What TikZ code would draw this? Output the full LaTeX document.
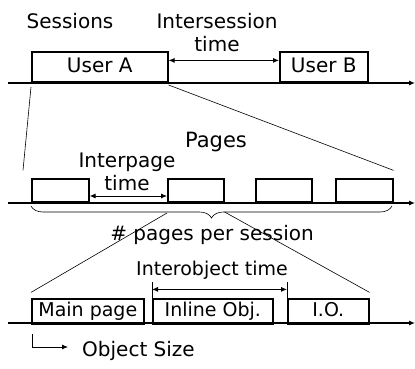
\documentclass[tikz,border=0pt]{standalone}
\usepackage{fontspec}
\setmainfont{DejaVu Sans}
\usetikzlibrary{arrows.meta,calc,decorations.pathreplacing}
\begin{document}
\begin{tikzpicture}[x=1pt,y=-1pt,
  every node/.style={font=\fontsize{20}{22}\selectfont},
  small/.style={font=\fontsize{19}{21}\selectfont},
  box/.style={draw,line width=1.6pt,inner sep=0pt,anchor=south west,minimum height=#1,text height=14pt,text depth=4pt},
  box/.default=30pt,
  lbl/.style={inner sep=0pt,anchor=base},
  axis/.style={line width=1.1pt,-{Latex[length=6pt,width=5pt]}},
  dim/.style={line width=0.8pt,{Latex[length=6pt,width=5pt]}-{Latex[length=6pt,width=5pt]}},
  zoomline/.style={line width=0.6pt}]
\useasboundingbox (0,0) rectangle (415,369);
% axes
\coordinate (a1s) at (8,83);  \coordinate (a1e) at (415,83);
\coordinate (a2s) at (8,203); \coordinate (a2e) at (415,203);
\coordinate (a3s) at (8,323); \coordinate (a3e) at (415,323);
\draw[axis] (a1s) -- (a1e);
\draw[axis] (a2s) -- (a2e);
\draw[axis] (a3s) -- (a3e);
% row 1
\node[lbl] (sess) at (70,29) {Sessions};
\node[lbl] (ist1) at (217,29) {Intersession};
\node[lbl] (ist2) at (217,52) {time};
\node[box,minimum width=136pt] (ua) at (31,83) {User A};
\node[box,minimum width=88pt] (ub) at (279,83) {User B};
\draw[dim] ($(ua.north east)+(0,9)$) -- ($(ub.north west)+(0,9)$);
% row 2
\node[lbl,font=\fontsize{21}{23}\selectfont] (pages) at (216,147) {Pages};
\node[lbl] (ipt1) at (127,167) {Interpage};
\node[lbl] (ipt2) at (127,190) {time};
\node[box=23pt,minimum width=57pt] (p1) at (31,203) {};
\node[box=23pt,minimum width=56pt] (p2) at (167,203) {};
\node[box=23pt,minimum width=56pt] (p3) at (255,203) {};
\node[box=23pt,minimum width=57pt] (p4) at (335,203) {};
\draw[dim] ($(p1.south east)+(0,-7)$) -- ($(p2.south west)+(0,-7)$);
\draw[line width=0.6pt,decorate,decoration={brace,mirror,amplitude=12pt}] (31,206) -- (392,206);
\node[lbl] (pps) at (212,240) {\# pages per session};
% row 3
\node[lbl,small] (iot) at (212,275) {Interobject time};
\node[box=25pt,small,minimum width=112pt,yshift=-1pt] (o1) at (31,324) {Main page};
\node[box=25pt,small,minimum width=120pt,yshift=-1pt] (o2) at (152,324) {Inline Obj.};
\node[box=25pt,small,minimum width=81pt,yshift=-1pt] (o3) at (287,324) {I.O.};
\coordinate (t1) at ($(o2.north west)+(0,-16)$);
\coordinate (t2) at ($(o3.north west)+(0,-16)$);
\draw[line width=0.6pt] (o2.north west) -- (t1);
\draw[line width=0.6pt] (o3.north west) -- (t2);
\draw[dim] ($(o2.north west)+(0,-9)$) -- ($(o3.north west)+(0,-9)$);
\node[lbl,anchor=base west] (osz) at (82,356) {Object Size};
\coordinate (os1) at (32,334);
\coordinate (os2) at (32,347);
\coordinate (os3) at (68,347);
\draw[line width=0.8pt,-{Latex[length=6pt,width=5pt]}] (os1) -- (os2) -- (os3);
% zoom lines
\draw[zoomline] ($(ua.south west)+(0,4)$) -- ($(p1.north west)+(-8,-8)$);
\draw[zoomline] ($(ua.south east)+(0,2)$) -- ($(p4.north east)+(0,-8)$);
\draw[zoomline] ($(p2.south west)+(0,10)$) -- ($(o1.north west)+(0,-6)$);
\draw[zoomline] ($(p2.south east)+(0,9)$) -- ($(o3.north east)+(0,-6)$);
\end{tikzpicture}
\end{document}
